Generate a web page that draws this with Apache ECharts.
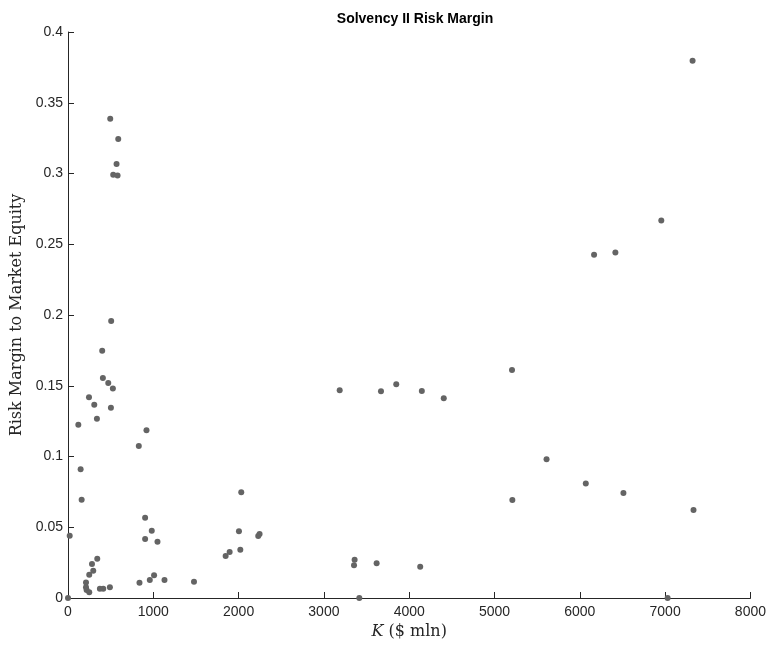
<!DOCTYPE html>
<html><head><meta charset="utf-8">
<script src="https://cdn.jsdelivr.net/npm/echarts@6/dist/echarts.min.js"></script>
<style>html,body{margin:0;padding:0;background:#fff}#c{width:769px;height:654px}</style>
</head><body><div id="c"></div>
<script>
const titleText = 'Solvency II Risk Margin';
const xName = 'K';
const xUnit = ' ($ mln)';
const yName = 'Risk Margin to Market Equity';
const xTicks = [0,1000,2000,3000,4000,5000,6000,7000,8000];
const yTicks = [0,0.05,0.1,0.15,0.2,0.25,0.3,0.35,0.4];
const kValues = [0,20,148,160,121,246,308,339,401,409,472,526,503,506,495,589,569,530,581,920,830,904,982,904,1049,343,281,296,249,211,211,218,249,374,413,491,838,959,1009,1131,1477,2031,2004,2246,2230,2020,1895,1848,3360,3353,3618,4129,3415,3185,3669,3848,4148,4405,5205,5610,6070,6511,5209,7333,6167,6417,6955,7322,7029];
const rmValues = [0,0.044,0.091,0.0695,0.1225,0.1418,0.1366,0.1267,0.1748,0.1555,0.152,0.148,0.1345,0.1958,0.3387,0.3244,0.3067,0.2992,0.2985,0.1185,0.1074,0.0568,0.0476,0.0417,0.0398,0.0278,0.024,0.0193,0.0165,0.011,0.0076,0.0057,0.004,0.0066,0.0066,0.0076,0.0108,0.0127,0.016,0.0127,0.0115,0.0747,0.0471,0.0452,0.0438,0.0341,0.0325,0.0297,0.0271,0.0231,0.0245,0.0221,0,0.1468,0.1461,0.151,0.1463,0.1411,0.1611,0.098,0.081,0.0742,0.0693,0.0622,0.2426,0.2441,0.2667,0.3797,0];

const data = kValues.map((k,i)=>[k, rmValues[i]]);
const axisColor = '#262626';
const chart = echarts.init(document.getElementById('c'));
chart.setOption({
  animation: false,
  backgroundColor: '#fff',
  title: {
    text: titleText, left: 410, textAlign: 'center', top: 7,
    textStyle: {fontFamily: 'Liberation Sans, Arial', fontWeight: 'bold', fontSize: 14, color: '#000'}
  },
  grid: {left: 68, right: 17, top: 32, bottom: 56, containLabel: false},
  xAxis: {
    type: 'value', min: xTicks[0], max: xTicks[xTicks.length-1], interval: 1000,
    name: '{i|' + xName + '}{n|' + xUnit + '}', nameLocation: 'middle', nameGap: 23,
    nameTextStyle: {rich: {
      i: {fontFamily: 'DejaVu Serif', fontStyle: 'italic', fontSize: 16, color: axisColor},
      n: {fontFamily: 'DejaVu Serif', fontSize: 16, color: axisColor}
    }},
    axisLine: {show: true, lineStyle: {color: axisColor, width: 1}},
    axisTick: {show: true, inside: true, length: 6, lineStyle: {color: axisColor}},
    axisLabel: {color: axisColor, fontFamily: 'Liberation Sans, Arial', fontSize: 14, margin: 7,
      formatter: v => String(v)},
    splitLine: {show: false}
  },
  yAxis: {
    type: 'value', min: yTicks[0], max: yTicks[yTicks.length-1], interval: 0.05,
    name: yName, nameLocation: 'middle', nameGap: 42,
    nameTextStyle: {fontFamily: 'DejaVu Serif', fontSize: 16, color: axisColor},
    axisLine: {show: true, lineStyle: {color: axisColor, width: 1}},
    axisTick: {show: true, inside: true, length: 6, lineStyle: {color: axisColor}},
    axisLabel: {color: axisColor, fontFamily: 'Liberation Sans, Arial', fontSize: 14, margin: 5,
      formatter: v => String(+v.toFixed(2))},
    splitLine: {show: false}
  },
  series: [{
    type: 'scatter', data: data, symbol: 'circle', symbolSize: 6,
    itemStyle: {color: '#646464', opacity: 1}, clip: false
  }]
});
</script></body></html>
